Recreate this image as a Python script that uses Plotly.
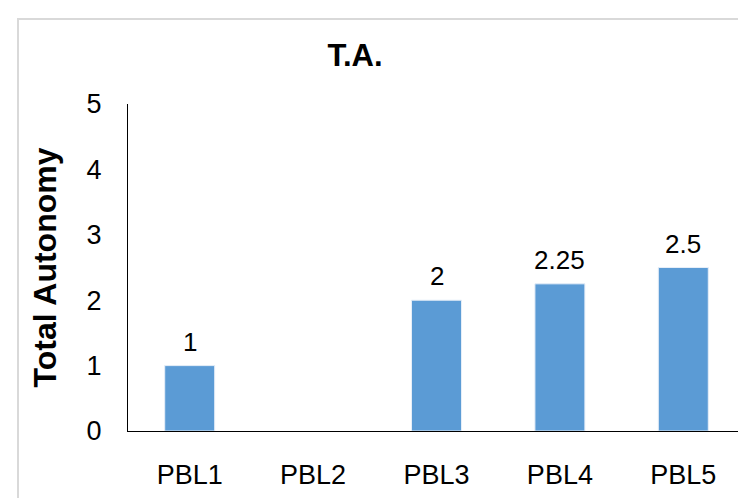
import plotly.graph_objects as go

# Data
categories = ["PBL1", "PBL2", "PBL3", "PBL4", "PBL5"]
autonomy = [1, None, 2, 2.25, 2.5]
labels = ["1", "", "2", "2.25", "2.5"]

BAR = "#5b9bd5"
FONT = "Liberation Sans, Arial, sans-serif"

W, H = 746, 498
L, R, T, B = 120, 9, 96, 75
PW, PH = W - L - R, H - T - B

fig = go.Figure(go.Bar(
    x=categories, y=autonomy,
    marker=dict(color=BAR, line=dict(color="#e6eef8", width=1))))

# value labels above the bars
for c, v, s in zip(categories, autonomy, labels):
    if v is None:
        continue
    fig.add_annotation(x=c, y=v, text=s, showarrow=False, yanchor="bottom",
                       yshift=7, font=dict(size=26, color="black"))

fig.update_layout(
    width=W, height=H,
    margin=dict(l=L, r=R, t=T, b=B),
    paper_bgcolor="white", plot_bgcolor="white",
    font=dict(family=FONT, color="black"),
    bargap=0.595, showlegend=False,
    title=dict(text="<b>T.A.</b>", x=347 / W, xanchor="center",
               y=1 - 47 / H, yanchor="middle",
               font=dict(size=31, family="Liberation Sans Narrow, Arial Narrow, " + FONT)),
)
fig.update_yaxes(
    range=[0, 5], dtick=1, showgrid=False, zeroline=False,
    showline=True, linecolor="black", linewidth=1, ticks="",
    tickfont=dict(size=27), ticklabelstandoff=20,
    title=dict(text="<b>Total Autonomy</b>", font=dict(size=32), standoff=20))
fig.update_xaxes(
    showline=True, linecolor="black", linewidth=1, ticks="",
    tickfont=dict(size=27), ticklabelstandoff=20)

# light frame around the chart area
fig.add_shape(type="rect", xref="paper", yref="paper",
              x0=(10 - L) / PW, x1=1.2, y0=-0.5, y1=(H - B - 11) / PH,
              line=dict(color="#d9d9d9", width=2), layer="below")

fig.write_html("out.html")
